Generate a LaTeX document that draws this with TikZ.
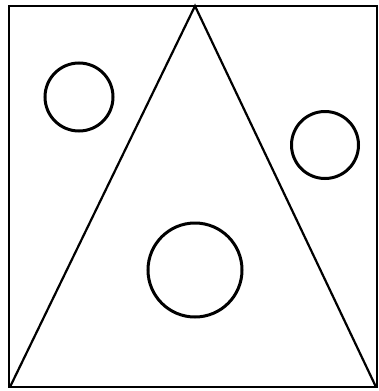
\documentclass[tikz,border=0pt]{standalone}
\usetikzlibrary{positioning}

\begin{document}
\begin{tikzpicture}[
    x=1pt, y=-1pt,
    frame/.style={draw=black, line width=2pt},
    edge/.style={draw=black, line width=2.2pt},
    ring/.style={circle, draw=black, line width=3pt, inner sep=0pt}
  ]
    \useasboundingbox (0,0) rectangle (379,391);

    % Outer square
    \coordinate (sqtl) at (9,6);
    \coordinate (sqbr) at (377,387);
    \draw[frame] (sqtl) rectangle (sqbr);

    % Triangle corners
    \coordinate (apex) at (195,6);
    \coordinate (baseleft) at (10,387);
    \coordinate (baseright) at (376,387);
    \draw[edge, line join=miter] (baseleft) -- (apex) -- (baseright);

    % Circles
    \node[ring, minimum size=68pt] (lcircle) at (79,97) {};
    \node[ring, minimum size=67pt] (rcircle) at (325,145) {};
    \node[ring, minimum size=94pt] (bcircle) at (195,270) {};
\end{tikzpicture}
\end{document}
